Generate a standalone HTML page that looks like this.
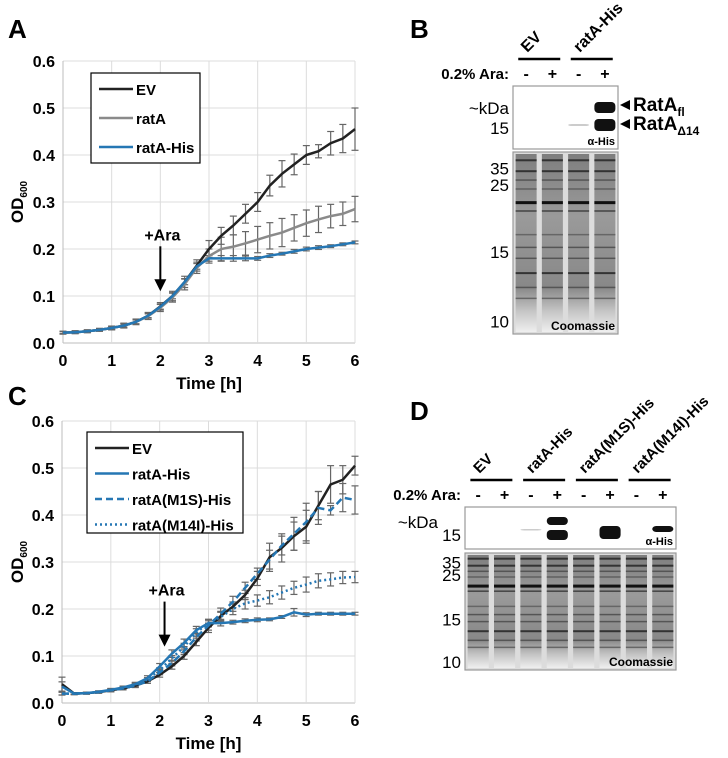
<!DOCTYPE html>
<html><head><meta charset="utf-8">
<style>
body{margin:0;background:#fff;}
svg{display:block;font-family:"Liberation Sans",Arial,sans-serif;}
.b{font-weight:bold;}
</style></head>
<body>
<svg id="fig" width="728" height="758" viewBox="0 0 728 758">
<defs>
<linearGradient id="laneg" x1="0" y1="0" x2="0" y2="1">
<stop offset="0" stop-color="#7e7e7e"/><stop offset="0.35" stop-color="#9a9a9a"/><stop offset="0.75" stop-color="#888"/><stop offset="0.88" stop-color="#c4c4c4"/><stop offset="1" stop-color="#efefef"/>
</linearGradient>
</defs>
<text x="8" y="38" font-size="26" class="b">A</text>
<text x="410" y="38" font-size="26" class="b">B</text>
<text x="8" y="405" font-size="26" class="b">C</text>
<text x="410" y="420" font-size="26" class="b">D</text>
<g id="chartA"></g>
<g id="chartC"></g>
<g id="gelB"></g>
<g id="gelD"></g>
</svg>
<script>
const times=[0,0.25,0.5,0.75,1,1.25,1.5,1.75,2,2.25,2.5,2.75,3,3.25,3.5,3.75,4,4.25,4.5,4.75,5,5.25,5.5,5.75,6];
const xTicks=[0,1,2,3,4,5,6];
const yTicks=["0.0","0.1","0.2","0.3","0.4","0.5","0.6"];
// Panel A
const aEV=[0.022,0.023,0.025,0.028,0.032,0.037,0.045,0.058,0.078,0.1,0.13,0.165,0.2,0.228,0.25,0.275,0.3,0.335,0.36,0.38,0.4,0.408,0.425,0.435,0.455];
const aEVerr=[0.003,0.003,0.003,0.003,0.004,0.005,0.006,0.007,0.008,0.01,0.012,0.012,0.018,0.018,0.02,0.02,0.02,0.022,0.028,0.022,0.02,0.014,0.025,0.03,0.045];
const aRatA=[0.022,0.023,0.025,0.028,0.032,0.037,0.045,0.057,0.075,0.097,0.125,0.16,0.185,0.2,0.205,0.212,0.22,0.228,0.235,0.245,0.255,0.263,0.27,0.275,0.285];
const aRatAerr=[0.003,0.003,0.003,0.003,0.004,0.005,0.005,0.007,0.008,0.01,0.012,0.012,0.015,0.025,0.025,0.025,0.028,0.028,0.03,0.028,0.028,0.028,0.025,0.025,0.027];
const aHis=[0.022,0.023,0.025,0.028,0.032,0.037,0.045,0.058,0.077,0.1,0.13,0.163,0.18,0.18,0.18,0.18,0.18,0.186,0.19,0.195,0.2,0.203,0.206,0.21,0.214];
const aHiserr=[0.002,0.002,0.002,0.002,0.003,0.003,0.004,0.004,0.005,0.006,0.006,0.006,0.006,0.006,0.006,0.005,0.004,0.004,0.003,0.004,0.004,0.004,0.003,0.003,0.003];
// Panel C
const cEV=[0.04,0.02,0.021,0.023,0.027,0.031,0.037,0.046,0.06,0.078,0.1,0.13,0.16,0.185,0.205,0.23,0.265,0.31,0.33,0.355,0.375,0.42,0.465,0.475,0.505];
const cEVerr=[0.015,0.002,0.002,0.002,0.003,0.003,0.004,0.004,0.005,0.006,0.007,0.008,0.01,0.01,0.01,0.01,0.015,0.03,0.03,0.03,0.035,0.03,0.04,0.03,0.02];
const cHis=[0.035,0.02,0.021,0.024,0.028,0.033,0.04,0.053,0.078,0.105,0.128,0.155,0.17,0.17,0.172,0.175,0.177,0.178,0.183,0.193,0.188,0.19,0.19,0.19,0.19];
const cHiserr=[0.01,0.002,0.002,0.002,0.003,0.003,0.004,0.005,0.006,0.008,0.008,0.008,0.008,0.006,0.004,0.004,0.004,0.003,0.003,0.008,0.004,0.003,0.003,0.003,0.003];
const cM1S=[0.02,0.02,0.021,0.023,0.027,0.031,0.037,0.046,0.065,0.085,0.11,0.14,0.165,0.19,0.215,0.245,0.275,0.305,0.335,0.36,0.385,0.415,0.41,0.437,0.432];
const cM1Serr=[0.003,0.002,0.002,0.002,0.003,0.003,0.004,0.004,0.005,0.006,0.007,0.008,0.01,0.012,0.012,0.012,0.012,0.02,0.02,0.035,0.04,0.035,0.01,0.03,0.03];
const cM14I=[0.02,0.02,0.021,0.023,0.027,0.032,0.039,0.05,0.07,0.095,0.12,0.15,0.17,0.183,0.2,0.212,0.218,0.225,0.235,0.245,0.252,0.26,0.263,0.267,0.268];
const cM14Ierr=[0.003,0.002,0.002,0.002,0.003,0.003,0.004,0.004,0.005,0.006,0.007,0.008,0.008,0.01,0.012,0.012,0.012,0.014,0.014,0.014,0.016,0.015,0.014,0.013,0.012];

const NS="http://www.w3.org/2000/svg";
function mk(tag,attrs,parent){const e=document.createElementNS(NS,tag);for(const k in attrs)e.setAttribute(k,attrs[k]);parent.appendChild(e);return e;}

function drawChart(g,x0,x1,y0,y1,series,legend,arrowTip,arrowX){
  const sx=v=>x0+(x1-x0)*v/6, sy=v=>y0-(y0-y1)*v/0.6;
  yTicks.forEach((t,i)=>{const v=parseFloat(t);
    const l=mk('line',{x1:x0,x2:x1,y1:sy(v),y2:sy(v),stroke:i==0?'#bdbdbd':'#dcdcdc','stroke-width':1},g);
    
    const tx=mk('text',{x:x0-8,y:sy(v)+6,'font-size':16,'text-anchor':'end','font-weight':'bold'},g);tx.textContent=t;
    
  });
  xTicks.forEach(v=>{
    const l=mk('line',{x1:sx(v),x2:sx(v),y1:y0,y2:y1,stroke:v==0?'#bdbdbd':'#dcdcdc','stroke-width':1},g);
    
    const tx=mk('text',{x:sx(v),y:y0+23,'font-size':16,'text-anchor':'middle','font-weight':'bold'},g);tx.textContent=v;
    
  });
  const xt=mk('text',{x:(x0+x1)/2,y:y0+46,'font-size':17,'text-anchor':'middle','font-weight':'bold'},g);xt.textContent='Time [h]';
  
  const yt=mk('text',{x:0,y:0,'font-size':17,'font-weight':'bold','text-anchor':'middle',transform:`translate(23,${(y0+y1)/2}) rotate(-90)`},g);
  yt.innerHTML='OD<tspan font-size="10" dy="4">600</tspan>';
  
  series.forEach(s=>{
    const eg=mk('g',{},g);
    times.forEach((t,i)=>{const x=sx(t),a=sy(s.v[i]+s.e[i]),b=sy(s.v[i]-s.e[i]);
      mk('line',{x1:x,x2:x,y1:a,y2:b,stroke:'#666','stroke-width':1.2},eg);
      mk('line',{x1:x-3.5,x2:x+3.5,y1:a,y2:a,stroke:'#666','stroke-width':1.2},eg);
      mk('line',{x1:x-3.5,x2:x+3.5,y1:b,y2:b,stroke:'#666','stroke-width':1.2},eg);});
  });
  series.forEach(s=>{
    const p=mk('polyline',{points:times.map((t,i)=>sx(t)+','+sy(s.v[i])).join(' '),fill:'none',stroke:s.c,'stroke-width':2.5,'stroke-dasharray':s.d||'none'},g);
    
  });
  const ax=sx(arrowX), tip=sy(arrowTip);
  const at=mk('text',{x:ax+2,y:tip-51,'font-size':16,'font-weight':'bold','text-anchor':'middle'},g);at.textContent='+Ara';
  
  const ar=mk('line',{x1:ax,x2:ax,y1:tip-45,y2:tip-10,stroke:'#000','stroke-width':2},g);
  
  mk('polygon',{points:`${ax-6},${tip-12} ${ax+6},${tip-12} ${ax},${tip}`,fill:'#000'},g);
  const lg=mk('g',{},g);
  mk('rect',{x:legend.x,y:legend.y,width:legend.w,height:legend.h,fill:'#fff',stroke:'#000','stroke-width':1.2},lg);
  series.forEach((s,i)=>{const yy=legend.y+16+i*legend.dy;
    const e=mk('g',{},lg);
    mk('line',{x1:legend.x+8,x2:legend.x+42,y1:yy,y2:yy,stroke:s.c,'stroke-width':2.5,'stroke-dasharray':s.d||'none'},e);
    const t=mk('text',{x:legend.x+45,y:yy+6,'font-size':15,'font-weight':'bold'},e);t.textContent=s.label;});
}
drawChart(document.getElementById('chartA'),63,355,343,61,[
 {name:'ev',label:'EV',v:aEV,e:aEVerr,c:'#222'},
 {name:'rata',label:'ratA',v:aRatA,e:aRatAerr,c:'#8a8a8a'},
 {name:'rata-his',label:'ratA-His',v:aHis,e:aHiserr,c:'#2577b4'}],
 {x:91,y:73,w:109,h:90,dy:29},0.11,2);
drawChart(document.getElementById('chartC'),62,355,703,421,[
 {name:'ev',label:'EV',v:cEV,e:cEVerr,c:'#222'},
 {name:'rata-his',label:'ratA-His',v:cHis,e:cHiserr,c:'#2577b4'},
 {name:'m1s',label:'ratA(M1S)-His',v:cM1S,e:cM1Serr,c:'#2577b4',d:'7,4'},
 {name:'m14i',label:'ratA(M14I)-His',v:cM14I,e:cM14Ierr,c:'#2577b4',d:'2,3'}],
 {x:87,y:432,w:156,h:101,dy:25.5},0.12,2.1);

function gel(g,x0,x1,by0,by1,cy0,cy1,lanes,bandsBlot,marks,cmarks){
  const pitch=(x1-x0)/lanes, lw=pitch*0.8;
  const b=mk('rect',{x:x0,y:by0,width:x1-x0,height:by1-by0,fill:'#fff',stroke:'#999','stroke-width':1.2},g);
  
  bandsBlot.forEach(bd=>{mk('rect',{x:x0+pitch*bd[0]+pitch*0.1,y:by0+bd[1],width:lw,height:bd[2],rx:4,fill:bd[3]},g);});
  const ah=mk('text',{x:x1-3,y:by1-4,'font-size':11,'font-weight':'bold','text-anchor':'end'},g);ah.textContent='α-His';
  const c=mk('rect',{x:x0,y:cy0,width:x1-x0,height:cy1-cy0,fill:'#dcdcdc',stroke:'#999','stroke-width':1.2},g);
  
  const H=cy1-cy0;
  for(let i=0;i<lanes;i++){const lx=x0+pitch*i+pitch*0.1;
    mk('rect',{x:lx,y:cy0+2,width:lw,height:H-4,fill:'url(#laneg)'},g);
    [[0.04,2,'#333'],[0.1,2,'#333'],[0.15,1.5,'#555'],[0.2,1.2,'#555'],[0.27,3,'#111'],[0.32,1.5,'#444'],[0.45,1.5,'#666'],[0.52,1.5,'#555'],[0.58,1.5,'#555'],[0.66,2,'#333'],[0.74,1.5,'#555'],[0.8,1.5,'#666']].forEach(bb=>{
      mk('rect',{x:lx,y:cy0+H*bb[0],width:lw,height:bb[1],fill:bb[2]},g);});
  }
  const ct=mk('text',{x:x1-3,y:cy1-4,'font-size':12,'font-weight':'bold','text-anchor':'end'},g);ct.textContent='Coomassie';
  marks.forEach(m=>{const t=mk('text',{x:m[3]||x0-4,y:m[1],'font-size':m[2]||16,'text-anchor':'end'},g);t.textContent=m[0];});
  cmarks.forEach(m=>{const t=mk('text',{x:x0-4,y:cy0+H*m[1]+6,'font-size':17,'text-anchor':'end'},g);t.textContent=m[0];});
  const ar=mk('text',{x:x0-4,y:by0-7,'font-size':15,'font-weight':'bold','text-anchor':'end'},g);ar.textContent='0.2% Ara:';
  for(let i=0;i<lanes;i++){const t=mk('text',{x:x0+pitch*(i+0.5),y:by0-7,'font-size':16,'font-weight':'bold','text-anchor':'middle'},g);t.textContent=i%2?'+':'-';}
  return pitch;
}
const gB=document.getElementById('gelB');
let p=gel(gB,513,618,86,149,152,334,4,[[2,38,2,'#ccc'],[3,16,11,'#111'],[3,33,12,'#111']],[["~kDa",114,17],["15",134,17]],[["35",0.09],["25",0.18],["15",0.55],["10",0.93]]);
[["EV",0],["ratA-His",2]].forEach(l=>{const cx=513+p*(l[1]+1);
  mk('line',{x1:cx-p*0.8,x2:cx+p*0.8,y1:59,y2:59,stroke:'#000','stroke-width':2.5},gB);
  const t=mk('text',{x:0,y:0,'font-size':16,'font-weight':'bold',transform:`translate(${cx-12},53) rotate(-45)`},gB);t.textContent=l[0];});
[["RatA","fl",111],["RatA","Δ14",130]].forEach(r=>{mk('polygon',{points:`620,${r[2]-6} 630,${r[2]-11} 630,${r[2]-1}`,fill:'#000'},gB);
  const t=mk('text',{x:633,y:r[2],'font-size':19,'font-weight':'bold'},gB);t.innerHTML=r[0]+'<tspan font-size="12" dy="5">'+r[1]+'</tspan>';});
const gD=document.getElementById('gelD');
p=gel(gD,465,676,507,549,553,670,8,[[2,22,1.5,'#ccc'],[3,10,8,'#111'],[3,23,10,'#111'],[5,19,13,'#111'],[7,19,6,'#111']],[["~kDa",528,17,438],["15",541,17,461]],[["35",0.08],["25",0.19],["15",0.57],["10",0.93]]);
[["EV",0],["ratA-His",2],["ratA(M1S)-His",4],["ratA(M14I)-His",6]].forEach(l=>{const cx=465+p*(l[1]+1);
  mk('line',{x1:cx-21,x2:cx+21,y1:480,y2:480,stroke:'#000','stroke-width':2.5},gD);
  const t=mk('text',{x:0,y:0,'font-size':15,'font-weight':'bold',transform:`translate(${cx-12},474) rotate(-45)`},gD);t.textContent=l[0];});
</script>
</body></html>
